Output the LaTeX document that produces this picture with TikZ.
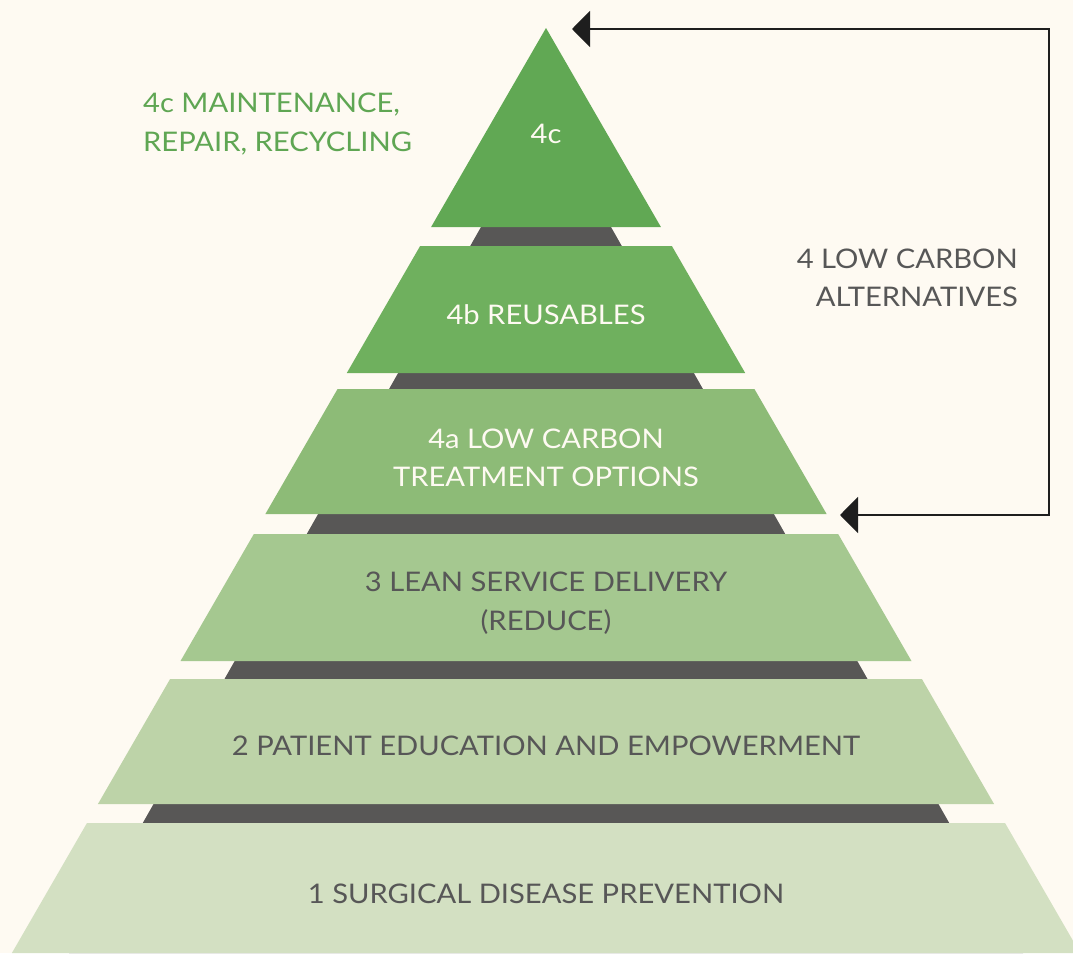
\documentclass[tikz,border=0pt]{standalone}
\usepackage{fontspec}
\setmainfont[FakeStretch=1.08]{Lato}
\usetikzlibrary{arrows.meta}
\definecolor{bg}{HTML}{FEFAF2}
\definecolor{darkband}{HTML}{585756}
\definecolor{lvA}{HTML}{61A854}
\definecolor{lvB}{HTML}{6FB05E}
\definecolor{lvC}{HTML}{8DBB77}
\definecolor{lvD}{HTML}{A5C890}
\definecolor{lvE}{HTML}{BDD3A8}
\definecolor{lvF}{HTML}{D3E0C2}
\definecolor{txtgray}{HTML}{575757}
\definecolor{txtgreen}{HTML}{5FA653}
\definecolor{arrowcol}{HTML}{1E1E1E}
\newcommand\pyrhw[1]{0.5774*(#1-28)}
\newcommand\pyrlevel[3]{%
  \fill[#3] ({546-\pyrhw{#1}},#1) -- ({546+\pyrhw{#1}},#1) -- ({546+\pyrhw{#2}},#2) -- ({546-\pyrhw{#2}},#2) -- cycle;}
\begin{document}
\begin{tikzpicture}[x=1pt,y=-1pt,
  lighttxt/.style={text=bg,font=\fontsize{27}{38.5}\selectfont,align=center,inner sep=0pt},
  darktxt/.style={text=txtgray,font=\fontsize{27}{38.5}\selectfont,align=center,inner sep=0pt},
  bracket/.style={draw=arrowcol,line width=1.4pt,{Triangle[length=18pt,width=36pt]}-{Triangle[length=18pt,width=36pt]}}]
\fill[bg] (0,0) rectangle (1073,953);
\useasboundingbox (0,0) rectangle (1073,953);
% dark backing
\fill[darkband] (481,227) -- (611,227) -- (1023,953) -- (69,953) -- cycle;
% levels
\fill[lvA] (546,28) -- ({546+\pyrhw{227}},227) -- ({546-\pyrhw{227}},227) -- cycle;
\pyrlevel{246}{373}{lvB}
\pyrlevel{389}{514}{lvC}
\pyrlevel{534}{661}{lvD}
\pyrlevel{679}{804}{lvE}
\pyrlevel{823}{953}{lvF}
% texts
\node[lighttxt] (t4c) at (546,134) {4c};
\node[lighttxt] (t4b) at (546,315) {4b REUSABLES};
\node[lighttxt] (t4a) at (546,458) {4a LOW CARBON\\TREATMENT OPTIONS};
\node[darktxt] (t3) at (546,603) {3 LEAN SERVICE DELIVERY\\(REDUCE)};
\node[darktxt] (t2) at (546,746) {2 PATIENT EDUCATION AND EMPOWERMENT};
\node[darktxt] (t1) at (546,894) {1 SURGICAL DISEASE PREVENTION};
\node[text=txtgreen,font=\fontsize{27}{38.5}\selectfont,align=left,inner sep=0pt,anchor=west] (lab4c) at (143,124) {4c MAINTENANCE,\\REPAIR, RECYCLING};
\node[text=txtgray,font=\fontsize{27}{38.5}\selectfont,align=right,inner sep=0pt,anchor=east] (lab4) at (1018,278) {4 LOW CARBON\\ALTERNATIVES};
% bracket connector
\coordinate (topTip) at (572,29);
\coordinate (botTip) at (840,515);
\coordinate (rail) at (1049,0);
\draw[bracket] (topTip) -- (topTip -| rail) -- (botTip -| rail) -- (botTip);
\end{tikzpicture}
\end{document}
